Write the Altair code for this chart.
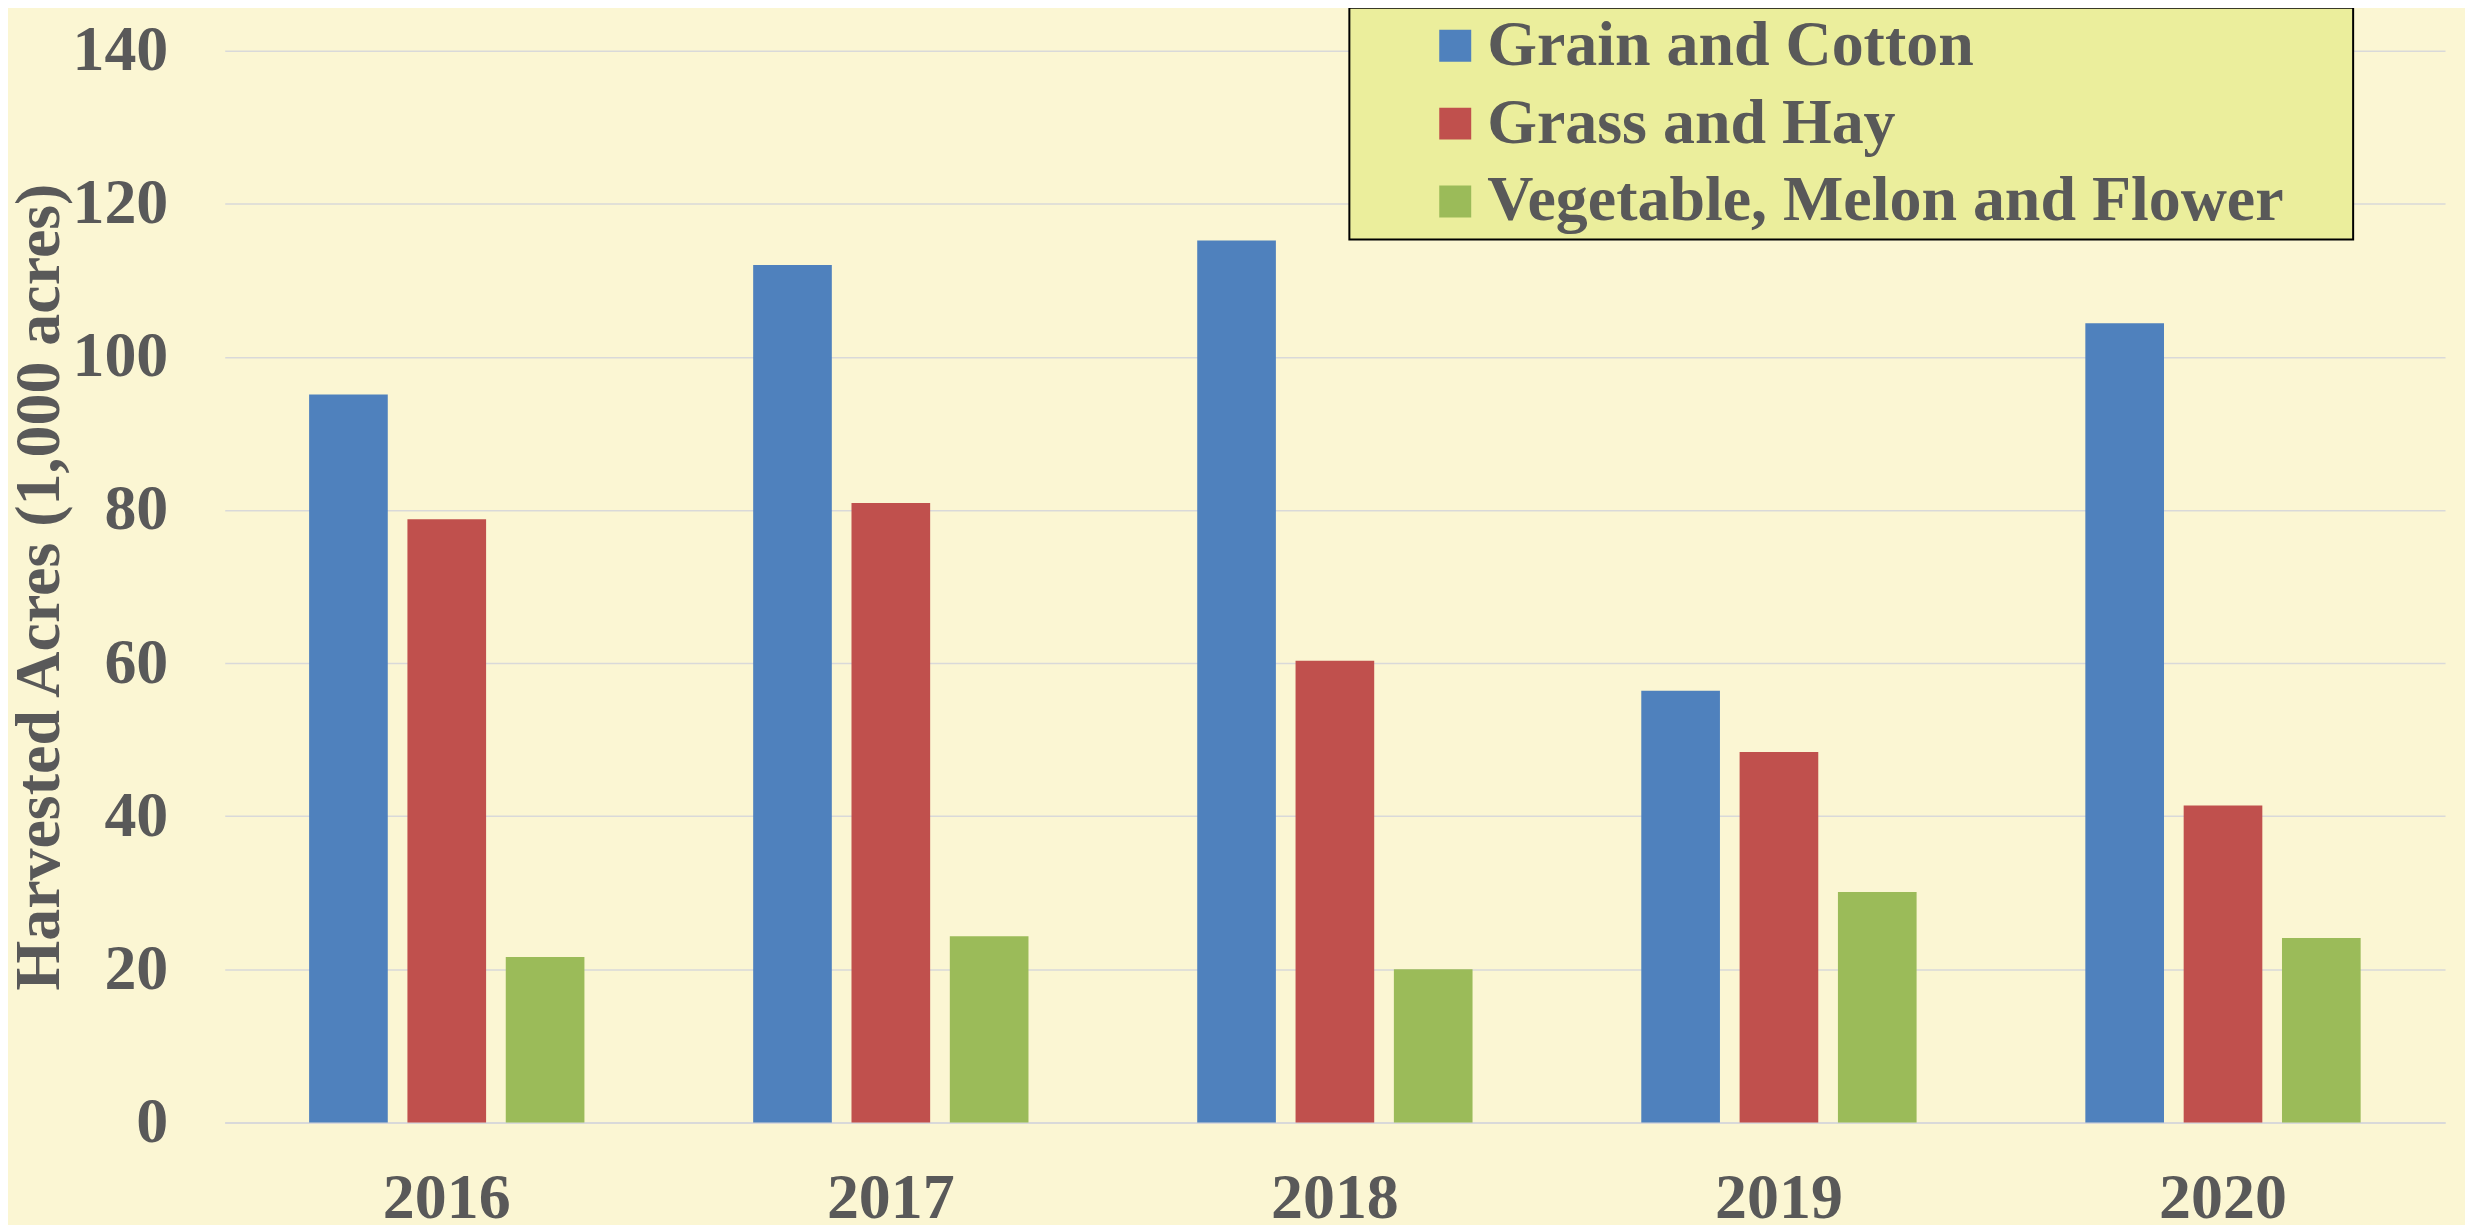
import altair as alt
import pandas as pd

years = ["2016", "2017", "2018", "2019", "2020"]
series = ["Grain and Cotton", "Grass and Hay", "Vegetable, Melon and Flower"]
grain_cotton = [95.1, 112.0, 115.2, 56.4, 104.4]
grass_hay = [78.8, 80.9, 60.3, 48.4, 41.4]
veg_melon_flower = [21.6, 24.3, 20.0, 30.1, 24.1]
colors = ["#4F81BD", "#C0504D", "#9BBB59"]
y_ticks = [0, 20, 40, 60, 80, 100, 120, 140]

rows = []
for name, vals in zip(series, [grain_cotton, grass_hay, veg_melon_flower]):
    for yr, v in zip(years, vals):
        rows.append({"Year": yr, "Type": name, "Acres": v})
df = pd.DataFrame(rows)

FONT = "Liberation Serif"
GREY = "#595959"

chart = alt.Chart(df).mark_bar().encode(
    x=alt.X("Year:N", sort=years,
            scale=alt.Scale(paddingInner=0.38, paddingOuter=0.19),
            axis=alt.Axis(title=None, labelAngle=0, ticks=False, tickSize=0,
                          labelPadding=44, domainColor="#D9D9D9", domainWidth=2,
                          labelFont=FONT, labelFontSize=64, labelFontWeight="bold",
                          labelColor=GREY, grid=False)),
    xOffset=alt.XOffset("Type:N", sort=series,
                        scale=alt.Scale(paddingInner=0.2, paddingOuter=0)),
    y=alt.Y("Acres:Q",
            scale=alt.Scale(domain=[0, 140], nice=False),
            axis=alt.Axis(title="Harvested Acres (1,000 acres)", values=y_ticks,
                          ticks=False, tickSize=0, domain=False, labelPadding=57,
                          labelFont=FONT, labelFontSize=64, labelFontWeight="bold",
                          labelColor=GREY, titleFont=FONT, titleFontSize=64,
                          titleFontWeight="bold", titleColor=GREY, titlePadding=0,
                          gridColor="#D9D9D9", gridWidth=1.5)),
    color=alt.Color("Type:N", sort=series,
                    scale=alt.Scale(domain=series, range=colors),
                    legend=alt.Legend(title=None, orient="none", legendX=1126, legendY=-43,
                                      padding=6, symbolOffset=68, fillColor="#EBEE9C",
                                      strokeColor="#000000", symbolType="square",
                                      symbolSize=1024, symbolStrokeWidth=0,
                                      labelFont=FONT, labelFontSize=64,
                                      labelFontWeight="bold", labelColor=GREY,
                                      labelOffset=0, labelLimit=0, rowPadding=14,
                                      labelExpr="datum.label + '\u00a0\u2800'")),
).properties(
    width=2223,
    height=1073,
    padding={"left": 217, "top": 42, "right": 20, "bottom": 110},
    autosize=alt.AutoSizeParams(type="none"),
    background="#FBF6D3",
).configure_view(
    stroke=None,
).configure_legend(
    strokeWidth=2,
)

chart.save("out.html", embed_options={"renderer": "svg", "actions": False})
